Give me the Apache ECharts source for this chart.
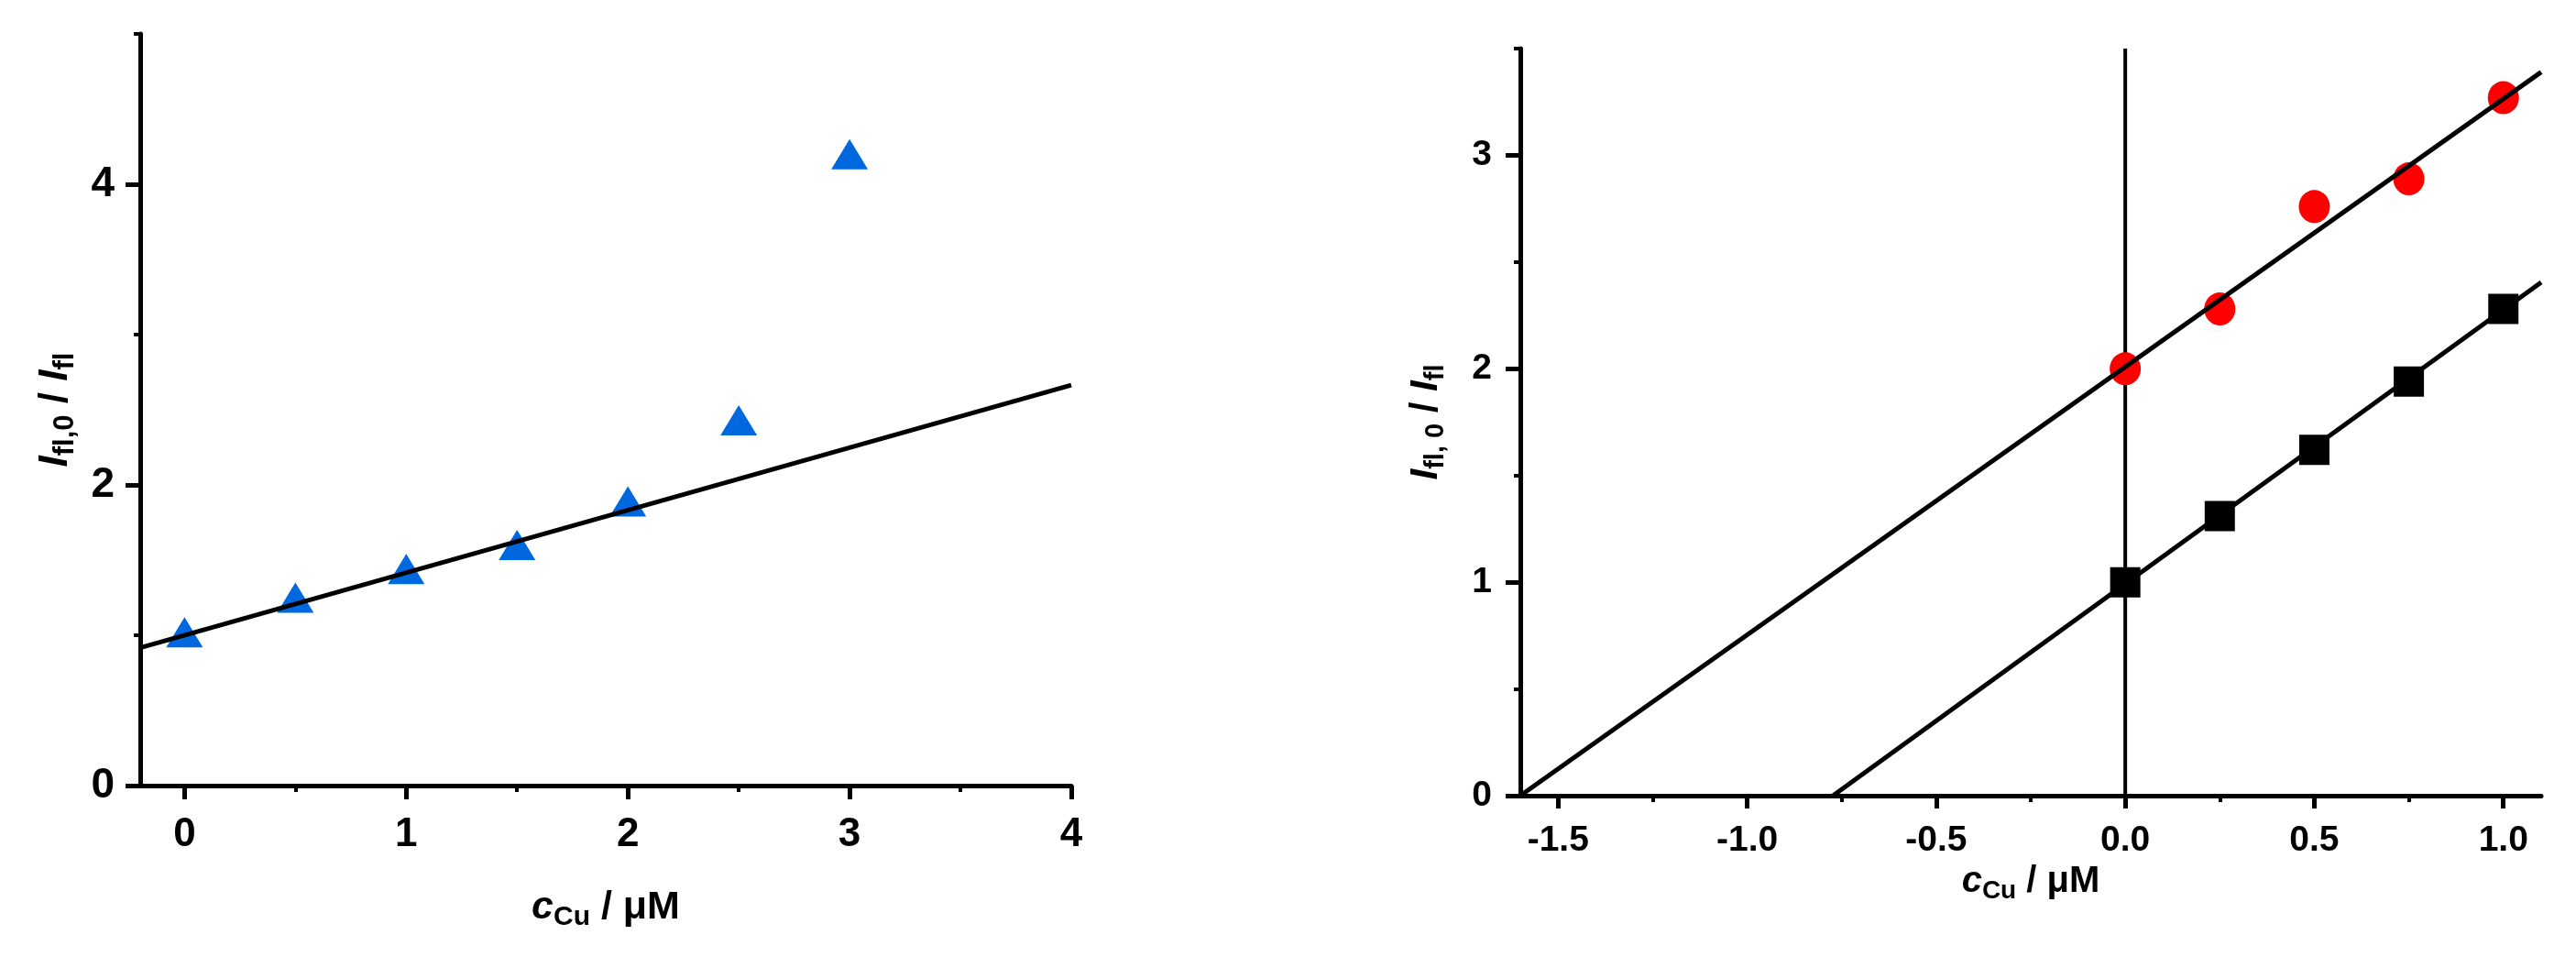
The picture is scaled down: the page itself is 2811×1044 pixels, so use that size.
<!DOCTYPE html>
<html>
<head>
<meta charset="utf-8">
<script src="https://cdn.jsdelivr.net/npm/echarts@6/dist/echarts.min.js"></script>
<style>
  html, body { margin: 0; padding: 0; background: #fff; }
  #main { width: 2811px; height: 1044px; }
</style>
</head>
<body>
<div id="main"></div>
<script>
// left panel: quenching vs Cu concentration
const leftConc = [0, 0.5, 1, 1.5, 2, 2.5, 3]
const leftRatio = [1.02, 1.25, 1.44, 1.60, 1.89, 2.43, 4.20]
const leftFitX = [-0.2, 4]
const leftFitY = [0.917, 2.664]
const leftXTicks = [0, 1, 2, 3, 4]
const leftXMinor = [0.5, 1.5, 2.5, 3.5]
const leftYTicks = [0, 2, 4]
const leftYMinor = [1, 3, 5]

// right panel: two series with fitted lines
const rightConc = [0, 0.25, 0.5, 0.75, 1]
const redRatio = [2.00, 2.28, 2.76, 2.89, 3.27]
const blackRatio = [1.00, 1.31, 1.62, 1.94, 2.28]
const redFitX = [-1.6, 1.1]
const redFitY = [0, 3.39]
const blackFitX = [-0.773, 1.1]
const blackFitY = [0, 2.405]
const zeroLineY = [0, 3.5]
const rightXTicks = [-1.5, -1.0, -0.5, 0.0, 0.5, 1.0]
const rightXMinor = [-1.25, -0.75, -0.25, 0.25, 0.75]
const rightYTicks = [0, 1, 2, 3]
const rightYMinor = [0.5, 1.5, 2.5, 3.5]

const FONT = 'Liberation Sans'
const pairs = (xs, ys) => xs.map((x, i) => [x, ys[i]])

// rich text for axis names with subscripts
const nameRich = (big, small) => ({
  i: { fontFamily: FONT, fontWeight: 'bold', fontStyle: 'italic', fontSize: big, lineHeight: big + 8, color: '#000' },
  n: { fontFamily: FONT, fontWeight: 'bold', fontSize: big, lineHeight: big + 8, color: '#000' },
  s: { fontFamily: FONT, fontWeight: 'bold', fontSize: small, lineHeight: small, verticalAlign: 'bottom', color: '#000' },
})

const majorAxis = (opts) => ({
  type: 'value',
  min: opts.min,
  max: opts.max,
  gridIndex: opts.grid,
  position: opts.position,
  name: opts.name,
  nameLocation: 'middle',
  nameGap: opts.nameGap,
  nameTextStyle: { rich: nameRich(opts.nameSize, opts.subSize) },
  axisLine: { show: true, onZero: false, lineStyle: { color: '#000', width: 5 } },
  axisTick: { show: true, inside: false, length: opts.tickLen, customValues: opts.ticks, lineStyle: { color: '#000', width: 5 } },
  axisLabel: {
    show: true,
    customValues: opts.ticks,
    margin: opts.margin,
    fontFamily: FONT,
    fontWeight: 'bold',
    fontSize: opts.fontSize,
    color: '#000',
    formatter: opts.fmt,
  },
  splitLine: { show: false },
})

const minorAxis = (opts) => ({
  type: 'value',
  min: opts.min,
  max: opts.max,
  gridIndex: opts.grid,
  position: opts.position,
  axisLine: { show: false, onZero: false },
  axisTick: { show: true, inside: false, length: 7, customValues: opts.ticks, lineStyle: { color: '#000', width: 4 } },
  axisLabel: { show: false },
  splitLine: { show: false },
})

const myChart = echarts.init(document.getElementById('main'))

const options = {
  backgroundColor: '#fff',
  animation: false,
  grid: [
    { left: 153, top: 37, width: 1016, height: 820 },
    { left: 1659, top: 53, width: 1114, height: 815 },
  ],
  xAxis: [
    majorAxis({
      grid: 0, min: -0.2, max: 4, position: 'bottom', ticks: leftXTicks, tickLen: 15,
      margin: 32, fontSize: 44, nameGap: 108, nameSize: 43, subSize: 30,
      name: '{i|c}{s|Cu}{n| / μM}',
      fmt: (v) => String(v),
    }),
    minorAxis({ grid: 0, min: -0.2, max: 4, position: 'bottom', ticks: leftXMinor }),
    majorAxis({
      grid: 1, min: -1.6, max: 1.1, position: 'bottom', ticks: rightXTicks, tickLen: 14,
      margin: 30, fontSize: 39, nameGap: 68, nameSize: 40, subSize: 28,
      name: '{i|c}{s|Cu}{n| / μM}',
      fmt: (v) => v.toFixed(1),
    }),
    minorAxis({ grid: 1, min: -1.6, max: 1.1, position: 'bottom', ticks: rightXMinor }),
  ],
  yAxis: [
    majorAxis({
      grid: 0, min: 0, max: 5, position: 'left', ticks: leftYTicks, tickLen: 16,
      margin: 28, fontSize: 46, nameGap: 66, nameSize: 44, subSize: 31,
      name: '{i|I}{s|fl,0}{n| / }{i|I}{s|fl}',
      fmt: (v) => String(v),
    }),
    minorAxis({ grid: 0, min: 0, max: 5, position: 'left', ticks: leftYMinor }),
    majorAxis({
      grid: 1, min: 0, max: 3.5, position: 'left', ticks: rightYTicks, tickLen: 16,
      margin: 31, fontSize: 39, nameGap: 78, nameSize: 42, subSize: 29,
      name: '{i|I}{s|fl, 0}{n| / }{i|I}{s|fl}',
      fmt: (v) => String(v),
    }),
    minorAxis({ grid: 1, min: 0, max: 3.5, position: 'left', ticks: rightYMinor }),
  ],
  series: [
    {
      type: 'scatter',
      xAxisIndex: 0, yAxisIndex: 0,
      data: pairs(leftConc, leftRatio),
      symbol: 'triangle',
      symbolSize: [40, 33],
      itemStyle: { color: '#0068df', opacity: 1 },
      z: 2,
    },
    {
      type: 'line',
      xAxisIndex: 0, yAxisIndex: 0,
      data: pairs(leftFitX, leftFitY),
      showSymbol: false,
      lineStyle: { color: '#000', width: 5 },
      z: 3,
    },
    {
      type: 'line',
      xAxisIndex: 2, yAxisIndex: 2,
      data: pairs([0, 0], zeroLineY),
      showSymbol: false,
      lineStyle: { color: '#000', width: 4 },
      z: 1,
    },
    {
      type: 'scatter',
      xAxisIndex: 2, yAxisIndex: 2,
      data: pairs(rightConc, redRatio),
      symbol: 'circle',
      symbolSize: [34, 36],
      itemStyle: { color: '#ff0000', opacity: 1 },
      z: 2,
    },
    {
      type: 'scatter',
      xAxisIndex: 2, yAxisIndex: 2,
      data: pairs(rightConc, blackRatio),
      symbol: 'rect',
      symbolSize: 33,
      itemStyle: { color: '#000', opacity: 1 },
      z: 2,
    },
    {
      type: 'line',
      xAxisIndex: 2, yAxisIndex: 2,
      data: pairs(redFitX, redFitY),
      showSymbol: false,
      lineStyle: { color: '#000', width: 5 },
      z: 3,
    },
    {
      type: 'line',
      xAxisIndex: 2, yAxisIndex: 2,
      data: pairs(blackFitX, blackFitY),
      showSymbol: false,
      lineStyle: { color: '#000', width: 5 },
      z: 3,
    },
  ],
}

myChart.setOption(options)
</script>
</body>
</html>
